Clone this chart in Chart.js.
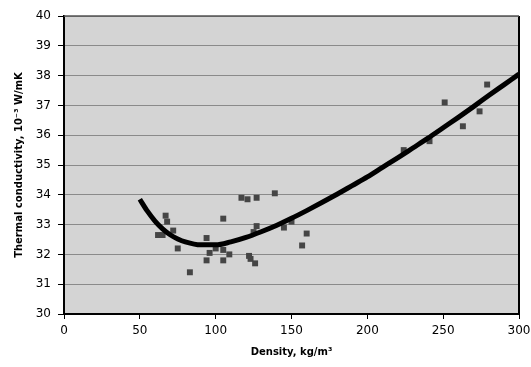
<!DOCTYPE html>
<html>
<head>
<meta charset="utf-8">
<script src="https://cdn.jsdelivr.net/npm/chart.js@4.4.1/dist/chart.umd.min.js"></script>
<style>
  html,body{margin:0;padding:0;background:#fff;}
  #wrap{width:531px;height:367px;}
</style>
</head>
<body>
<div id="wrap"><canvas id="chart"></canvas></div>
<script>
// measured samples
const sampleDensity = [67,68,72,62,65,75,83,94,94,96,100,105,109,105,105,117,121,127,139,127,125,122,123,126,145,150,160,157,224,241,251,263,274,279];
const sampleConductivity = [33.3,33.1,32.8,32.65,32.65,32.2,31.4,32.55,31.8,32.05,32.2,32.15,32.0,31.8,33.2,33.9,33.85,33.9,34.05,32.95,32.75,31.95,31.85,31.7,32.9,33.1,32.7,32.3,35.5,35.8,37.1,36.3,36.8,37.7];

// trend curve
const trendDensity = [50,55,60,65,70,75,80,90,100,110,120,130,140,150,160,170,180,190,200,210,220,230,240,250,260,270,280,290,300];
const trendConductivity = [33.85,33.45,33.12,32.86,32.66,32.52,32.42,32.32,32.32,32.42,32.57,32.76,32.97,33.21,33.47,33.74,34.02,34.31,34.6,34.92,35.24,35.57,35.9,36.25,36.6,36.96,37.33,37.69,38.05];

const xTicks = [0,50,100,150,200,250,300];
const yTicks = [30,31,32,33,34,35,36,37,38,39,40];

const pts = (xs, ys) => xs.map((x,i)=>({x, y:ys[i]}));

const plotBg = {
  id:'plotBg',
  beforeDraw(c){
    const a=c.chartArea, ctx=c.ctx;
    ctx.save(); ctx.fillStyle='#d4d4d4'; ctx.fillRect(a.left,a.top,a.right-a.left,a.bottom-a.top); ctx.restore();
  },
  afterDraw(c){
    const a=c.chartArea, ctx=c.ctx;
    ctx.save(); ctx.strokeStyle='#000'; ctx.lineWidth=2;
    ctx.beginPath(); ctx.moveTo(a.right,a.top); ctx.lineTo(a.right,a.bottom); ctx.stroke();
    ctx.strokeStyle='#555'; ctx.lineWidth=1.5;
    ctx.beginPath(); ctx.moveTo(a.left,a.top); ctx.lineTo(a.right,a.top); ctx.stroke();
    ctx.restore();
  }
};

const font = {family:'DejaVu Sans', size:12};
const titleFont = {family:'DejaVu Sans', size:10, weight:'bold'};

new Chart(document.getElementById('chart'), {
  type:'scatter',
  data:{ datasets:[
    { data: pts(trendDensity, trendConductivity), showLine:true, borderColor:'#000', borderWidth:5,
      pointRadius:0, cubicInterpolationMode:'monotone', fill:false },
    { data: pts(sampleDensity, sampleConductivity), pointStyle:'rect', pointRadius:4.2,
      backgroundColor:'#454545', borderWidth:0, showLine:false }
  ]},
  options:{
    responsive:true, maintainAspectRatio:false, animation:false,
    layout:{ padding:{ top:16, right:12, left:0, bottom:0 } },
    plugins:{ legend:{display:false}, tooltip:{enabled:false} },
    scales:{
      x:{ type:'linear', min:0, max:300,
        afterBuildTicks: s => { s.ticks = xTicks.map(v=>({value:v})); },
        afterFit: s => { s.height = 53; s.paddingLeft = 0; s.paddingRight = 0; },
        grid:{ drawOnChartArea:false, drawTicks:true, tickLength:5, tickColor:'#000' },
        border:{ display:true, color:'#000', width:2 },
        ticks:{ color:'#000', font, padding:5, maxRotation:0 },
        title:{ display:true, text:'Density, kg/m³', color:'#000', font:titleFont, padding:{top:0,bottom:9} }
      },
      y:{ type:'linear', min:30, max:40,
        afterBuildTicks: s => { s.ticks = yTicks.map(v=>({value:v})); },
        afterFit: s => { s.width = 64; s.paddingTop = 0; s.paddingBottom = 0; },
        grid:{ color:'#8a8a8a', lineWidth:1, drawTicks:true, tickLength:6, tickColor:'#000' },
        border:{ display:true, color:'#000', width:2 },
        ticks:{ color:'#000', font, padding:7 },
        title:{ display:true, text:'Thermal conductivity, 10⁻³ W/mK', color:'#000', font:titleFont, padding:{top:13,bottom:0} }
      }
    }
  },
  plugins:[plotBg]
});
</script>
</body>
</html>
